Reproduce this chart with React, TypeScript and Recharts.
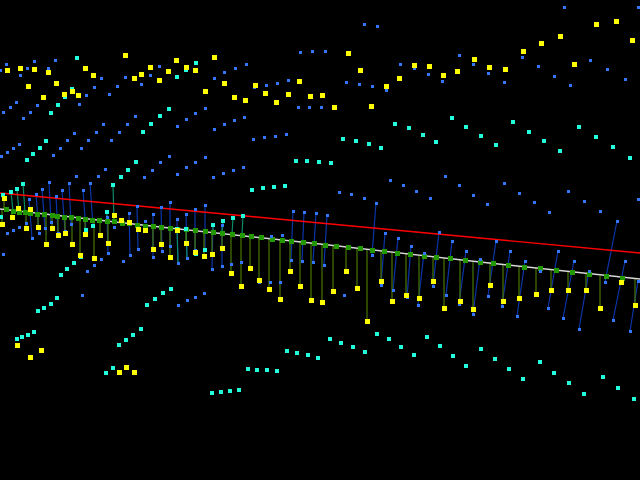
import React from "react";
import { ComposedChart, Line, Scatter, XAxis, YAxis } from "recharts";

type P = [number, number];
type S = [number, number, number, number];

const blueUpper: P[] = [[0,70],[6,64],[20,75],[27,68],[34,61],[48,68],[55,60],[3,112],[10,107],[16,102],[23,118],[30,112],[37,105],[79,104],[86,95],[94,87],[101,78],[109,94],[117,86],[125,77],[141,84],[150,75],[159,66],[214,78],[224,72],[235,68],[246,64],[254,87],[266,85],[277,83],[288,80],[300,52],[312,51],[298,107],[309,107],[205,108],[195,113],[186,119],[177,126],[244,117],[234,120],[224,124],[214,129],[135,116],[127,124],[119,132],[111,140],[103,124],[96,132],[88,140],[81,148],[74,133],[67,140],[60,148],[53,155],[19,144],[13,148],[7,152],[1,156],[286,134],[275,136],[264,137],[253,139],[205,157],[195,162],[186,167],[177,174],[169,156],[160,162],[152,170],[144,177],[105,169],[98,176],[76,176],[243,167],[233,170],[223,173],[213,177],[364,24],[377,26],[325,51],[346,82],[359,84],[372,86],[386,90],[400,64],[414,68],[428,74],[442,81],[459,55],[473,64],[488,73],[504,82],[522,57],[538,66],[554,76],[570,85],[590,60],[607,69],[625,79],[564,7],[638,7],[321,107],[339,192],[351,194],[364,198],[390,180],[403,185],[416,191],[430,198],[445,176],[459,185],[473,195],[487,204],[504,183],[519,193],[534,202],[549,212],[568,191],[584,201],[600,211],[638,199]];
const blueLower: P[] = [[3,254],[82,295],[87,271],[94,265],[101,259],[123,261],[178,305],[187,300],[195,297],[204,293],[212,269],[222,266],[231,264],[241,262],[259,282],[270,282],[280,282],[344,295],[393,290],[407,297],[446,295],[540,271],[145,221],[271,236],[282,235],[7,233],[13,230],[19,227],[26,223],[114,227]];
const blueStems: S[] = [[29,199,32,238],[36,194,39,233],[42,189,45,228],[49,182,51,222],[56,196,58,233],[62,190,65,231],[69,183,71,224],[83,190,86,231],[90,183,93,226],[107,217,108,253],[129,213,130,255],[137,206,138,249],[153,214,153,257],[161,207,162,251],[170,202,170,246],[177,219,178,263],[186,214,187,258],[195,209,195,250],[205,205,205,250],[213,225,212,269],[222,225,222,266],[293,211,291,260],[304,212,302,261],[316,213,313,262],[327,215,324,265],[376,203,372,255],[385,233,381,285],[398,238,393,290],[411,246,407,297],[424,253,418,305],[439,232,433,286],[452,241,446,295],[466,251,459,304],[480,259,473,314],[496,241,488,296],[510,251,502,306],[525,261,517,316],[558,251,548,308],[574,261,563,318],[589,271,579,329],[617,221,605,282],[625,261,613,320],[638,281,630,331]];
const cyanPoints: P[] = [[77,58],[196,63],[186,70],[177,77],[72,89],[65,97],[58,105],[51,113],[169,109],[160,116],[151,124],[143,132],[46,141],[40,148],[33,154],[27,160],[136,162],[128,170],[121,177],[296,161],[307,161],[319,162],[285,186],[274,187],[263,188],[252,190],[61,275],[67,269],[74,263],[81,257],[38,311],[44,308],[51,304],[57,298],[17,339],[22,337],[28,335],[34,332],[147,305],[155,299],[163,293],[171,289],[119,345],[126,340],[133,335],[141,329],[106,373],[113,368],[212,393],[221,392],[230,391],[239,390],[248,369],[257,370],[267,370],[277,371],[287,351],[297,353],[308,355],[318,358],[331,163],[343,139],[356,141],[369,144],[381,148],[395,124],[409,128],[423,135],[436,142],[452,118],[466,127],[481,136],[496,145],[513,122],[529,132],[544,141],[560,151],[579,127],[596,137],[613,147],[630,158],[330,339],[341,343],[353,347],[365,352],[377,334],[389,339],[401,347],[414,355],[427,337],[440,346],[453,356],[466,366],[481,349],[495,359],[509,369],[523,379],[540,362],[554,373],[569,383],[584,394],[603,377],[618,388],[634,399],[86,230],[93,226],[205,250],[196,254],[1,217],[3,195]];
const cyanStems: S[] = [[23,184,25,212],[17,189,19,212],[11,192,13,211],[113,185,114,221],[107,212,107,221],[213,225,213,232],[223,221,222,233],[233,218,232,234],[243,216,242,235],[177,229,178,263],[186,229,187,258]];
const yellowUpper: P[] = [[7,70],[20,68],[34,69],[48,72],[28,86],[56,83],[43,97],[64,94],[72,91],[78,95],[85,68],[93,75],[125,55],[134,78],[141,74],[150,67],[159,80],[168,71],[176,60],[186,67],[195,70],[205,91],[214,57],[224,83],[234,97],[245,100],[255,85],[265,93],[276,102],[288,94],[299,81],[310,96],[348,53],[360,70],[322,95],[334,107],[371,106],[386,86],[399,78],[414,65],[429,66],[443,75],[457,71],[474,59],[489,67],[505,69],[523,51],[541,43],[560,36],[574,64],[596,24],[616,21],[632,40]];
const yellowStemmed: P[] = [[4,198],[12,217],[18,208],[2,224],[26,228],[30,209],[38,227],[46,244],[52,228],[58,235],[65,233],[72,244],[80,255],[85,234],[94,258],[100,235],[108,243],[114,215],[121,220],[129,222],[138,229],[145,230],[153,249],[161,244],[170,257],[177,230],[186,243],[195,252],[204,256],[212,254],[222,248],[231,273],[241,286],[250,268],[259,280],[269,289],[280,299],[290,271],[300,286],[311,300],[322,302],[333,291],[346,271],[357,288],[367,321],[381,281],[392,301],[406,295],[419,298],[433,281],[444,308],[460,301],[473,309],[490,285],[503,301],[519,298],[536,294],[551,290],[568,290],[586,290],[600,308],[621,282],[635,305]];
const yellowLower: P[] = [[17,345],[30,357],[41,350],[119,372],[126,367],[134,372]];
const greenPoints: P[] = [[6,209],[13,211],[19,212],[25,212],[30,213],[37,214],[44,214],[52,215],[57,216],[64,217],[71,217],[78,218],[85,219],[92,220],[99,220],[107,221],[114,221],[122,223],[129,223],[137,225],[145,226],[153,226],[161,227],[170,228],[177,229],[186,229],[195,230],[205,231],[213,232],[222,233],[232,234],[242,235],[251,236],[261,237],[272,239],[282,240],[291,241],[303,242],[314,243],[325,245],[336,246],[348,247],[360,248],[372,250],[384,251],[397,253],[410,254],[424,256],[436,257],[450,258],[465,260],[480,262],[493,263],[508,265],[524,267],[540,268],[556,270],[572,272],[589,274],[606,276],[622,278]];
const redLine: P[] = [[0,193],[160,208],[320,223],[480,238],[640,253]];
const whiteLine: P[] = [[0,209],[160,227],[320,244],[480,262],[640,279]];

const toPts = (a: P[]) => a.map(([x, y]) => ({ x, y }));
const segs = (a: S[]) =>
  a.flatMap(([x1, y1, x2, y2]) => [{ x: x1, y: y1 }, { x: x2, y: y2 }, { x: x2, y: null }]);
const nearestGreenY = (x: number) =>
  greenPoints.reduce((b, g) => (Math.abs(g[0] - x) < Math.abs(b[0] - x) ? g : b))[1];
const oliveStems: S[] = yellowStemmed.map(([x, y]) => [x, y, x, nearestGreenY(x)]);

const square = (w: number, h: number, fill: string) => (p: any) => (
  <rect x={Math.round(p.cx) - Math.floor(w / 2)} y={Math.round(p.cy) - Math.floor(h / 2)} width={w} height={h} fill={fill} />
);

const lineProps = { type: "linear" as const, dataKey: "y", dot: false, activeDot: false, isAnimationActive: false, connectNulls: false, legendType: "none" as const };

export default function App() {
  return (
    <div style={{ position: "fixed", left: 0, top: 0, width: 640, height: 480, background: "#000", overflow: "hidden" }}>
      <ComposedChart width={640} height={480} margin={{ top: 0, right: 0, bottom: 0, left: 0 }}>
        <XAxis hide type="number" dataKey="x" domain={[0, 640]} allowDuplicatedCategory />
        <YAxis hide type="number" dataKey="y" domain={[0, 480]} reversed />
        <Line {...lineProps} data={segs(blueStems)} stroke="#0a35a8" strokeWidth={1.2} />
        <Line {...lineProps} data={segs(cyanStems)} stroke="#0a8a66" strokeWidth={1.2} />
        <Line {...lineProps} data={segs(oliveStems)} stroke="#467500" strokeWidth={1.2} />
        <Line {...lineProps} data={toPts(redLine)} stroke="#ff0000" strokeWidth={1.4} />
        <Scatter data={toPts(greenPoints)} dataKey="y" isAnimationActive={false} shape={square(5, 5, "#229900")} />
        <Line {...lineProps} data={toPts(whiteLine)} stroke="#d8d8d8" strokeWidth={1.4} />
        <Scatter data={toPts([...blueUpper, ...blueLower, ...blueStems.flatMap(([a, b, c, d]) => [[a, b], [c, d]] as P[])])} dataKey="y" isAnimationActive={false} shape={square(3, 3, "#3377ff")} />
        <Scatter data={toPts(cyanPoints.concat(cyanStems.map(([a, b]) => [a, b] as P)))} dataKey="y" isAnimationActive={false} shape={square(4, 4, "#22ffdd")} />
        <Scatter data={toPts([...yellowUpper, ...yellowStemmed, ...yellowLower])} dataKey="y" isAnimationActive={false} shape={square(5, 5, "#ffff00")} />
      </ComposedChart>
    </div>
  );
}
